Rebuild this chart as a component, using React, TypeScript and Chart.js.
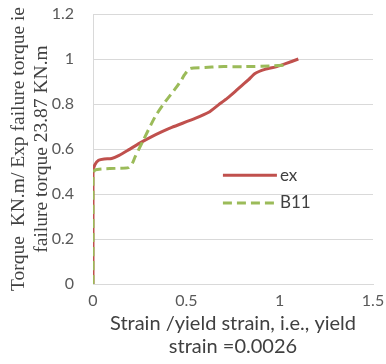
import React, { useEffect, useRef } from "react";
import { Chart, registerables } from "chart.js";

Chart.register(...registerables);

const exX = [0, 0, 0.01, 0.03, 0.06, 0.1, 0.14, 0.19, 0.25, 0.315, 0.37, 0.422, 0.547, 0.62, 0.672, 0.72, 0.761, 0.8, 0.832, 0.868, 0.921, 0.985, 1.028, 1.1];
const exY = [0, 0.5, 0.53, 0.55, 0.556, 0.558, 0.572, 0.596, 0.626, 0.655, 0.677, 0.696, 0.736, 0.763, 0.796, 0.826, 0.855, 0.884, 0.907, 0.936, 0.954, 0.966, 0.978, 1.0];

const b11X = [0, 0, 0.012, 0.06, 0.12, 0.19, 0.21, 0.226, 0.27, 0.333, 0.387, 0.449, 0.476, 0.49, 0.52, 0.6, 0.672, 0.8, 0.957, 1.03];
const b11Y = [0, 0.49, 0.507, 0.512, 0.514, 0.517, 0.535, 0.566, 0.64, 0.744, 0.81, 0.877, 0.91, 0.93, 0.958, 0.962, 0.966, 0.966, 0.969, 0.973];

const seriesLabels = ["ex", "B11"];
const xTitle = ["Strain /yield strain, i.e., yield", "strain =0.0026"];
const yTitle = ["Torque  KN.m/ Exp failure torque ie", "failure torque 23.87 KN.m"];

const RED = "#C0504D";
const GREEN = "#9BBB59";

const fmt = (v: any) => String(Math.round(Number(v) * 100) / 100);

const insideLegend = {
  id: "insideLegend",
  afterDatasetsDraw(chart: any) {
    const { ctx, chartArea } = chart;
    const w = chartArea.right - chartArea.left;
    const h = chartArea.bottom - chartArea.top;
    const x0 = chartArea.left + w * 0.464;
    const lineLen = 54;
    const ys = [chartArea.top + h * 0.597, chartArea.top + h * 0.7];
    ctx.save();
    chart.data.datasets.forEach((ds: any, i: number) => {
      const y = ys[i];
      ctx.beginPath();
      ctx.strokeStyle = ds.borderColor;
      ctx.lineWidth = ds.borderWidth;
      ctx.setLineDash(ds.borderDash || []);
      ctx.moveTo(x0, y);
      ctx.lineTo(x0 + lineLen, y);
      ctx.stroke();
      ctx.setLineDash([]);
      ctx.fillStyle = "#404040";
      ctx.font = "17px Lato";
      ctx.textBaseline = "middle";
      ctx.textAlign = "left";
      ctx.fillText(ds.label, x0 + lineLen + 3, y);
    });
    ctx.restore();
  },
};

export default function App() {
  const ref = useRef<HTMLCanvasElement | null>(null);
  useEffect(() => {
    if (!ref.current) return;
    const chart = new Chart(ref.current, {
      type: "line",
      data: {
        datasets: [
          {
            label: seriesLabels[0],
            data: exX.map((x, i) => ({ x, y: exY[i] })),
            borderColor: RED,
            borderWidth: 3,
            pointRadius: 0,
            tension: 0.2,
            order: 2,
          },
          {
            label: seriesLabels[1],
            data: b11X.map((x, i) => ({ x, y: b11Y[i] })),
            borderColor: GREEN,
            borderWidth: 3,
            borderDash: [9, 5],
            pointRadius: 0,
            tension: 0.2,
            order: 1,
          },
        ],
      },
      options: {
        animation: false,
        responsive: true,
        maintainAspectRatio: false,
        layout: { padding: { top: 14, right: 13, bottom: 3, left: 0 } },
        plugins: { legend: { display: false }, tooltip: { enabled: false } },
        scales: {
          x: {
            type: "linear",
            min: 0,
            max: 1.5,
            afterFit: (s: any) => {
              s.height = 77;
              s.paddingLeft = 0;
              s.paddingRight = 0;
            },
            ticks: { stepSize: 0.5, color: "#595959", font: { family: "Lato", size: 16 }, padding: 7, maxRotation: 0, callback: fmt },
            grid: { display: false, drawTicks: false },
            border: { display: true, color: "#d9d9d9", width: 1 },
            title: {
              display: true,
              text: xTitle,
              color: "#404040",
              font: { family: "Lato", size: 20, lineHeight: "23px" },
              padding: { top: 2, bottom: 3 },
            },
          },
          y: {
            min: 0,
            max: 1.2,
            afterFit: (s: any) => {
              s.width = 93;
              s.paddingTop = 0;
              s.paddingBottom = 0;
            },
            ticks: { stepSize: 0.2, color: "#595959", font: { family: "Lato", size: 16 }, padding: 19, callback: fmt },
            grid: { color: "#d9d9d9", lineWidth: 1, drawTicks: false },
            border: { display: true, color: "#d9d9d9", width: 1 },
            title: {
              display: true,
              text: yTitle,
              color: "#404040",
              font: { family: "Liberation Serif", size: 19.5, lineHeight: "23px" },
              padding: { top: 7, bottom: 0 },
            },
          },
        },
      },
      plugins: [insideLegend],
    });
    return () => chart.destroy();
  }, []);
  return (
    <div style={{ position: "fixed", left: 0, top: 0, width: 386, height: 364, background: "#fff" }}>
      <canvas ref={ref} />
    </div>
  );
}
